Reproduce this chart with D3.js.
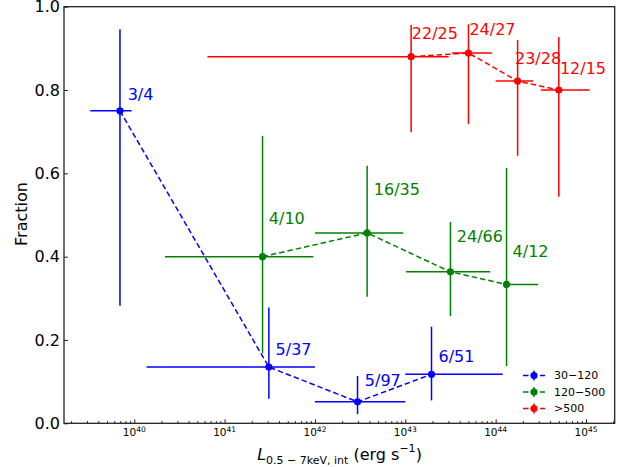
<!DOCTYPE html>
<html><head><meta charset="utf-8">
<script src="https://cdn.jsdelivr.net/npm/d3@7"></script>
<style>body{margin:0;background:#fff} svg{display:block} text{font-family:"DejaVu Sans",sans-serif}</style>
</head><body><svg id="c" width="634" height="467"></svg>
<script>
const seriesNames = ["30\u2212120", "120\u2212500", ">500"];
const seriesColors = ["#0000ff", "#008000", "#ff0000"];

// 30-120 (blue)
const blueL = [6.95e39, 3.09e41, 2.96e42, 1.95e43];
const blueLlo = [3.26e39, 1.37e40, 1.0e42, 1.0e43];
const blueLhi = [9.35e39, 1.0e42, 1.0e43, 1.2e44];
const blueFrac = [0.75, 0.135, 0.0515, 0.1176];
const blueFracLo = [0.282, 0.059, 0.022, 0.055];
const blueFracHi = [0.946, 0.278, 0.1135, 0.232];
const blueLabels = ["3/4", "5/37", "5/97", "6/51"];
const blueLabelL = [8.67e39, 3.76e41, 3.66e42, 2.39e43];
const blueLabelFrac = [0.776, 0.164, 0.0895, 0.146];

// 120-500 (green)
const greenL = [2.63e41, 3.78e42, 3.16e43, 1.32e44];
const greenLlo = [2.19e40, 1.0e42, 1.02e43, 1.32e44];
const greenLhi = [9.6e41, 9.5e42, 8.7e43, 2.95e44];
const greenFrac = [0.4, 0.457, 0.3636, 0.3333];
const greenFracLo = [0.168, 0.304, 0.257, 0.1375];
const greenFracHi = [0.690, 0.618, 0.483, 0.613];
const greenLabels = ["4/10", "16/35", "24/66", "4/12"];
const greenLabelL = [3.17e41, 4.6e42, 3.81e43, 1.58e44];
const greenLabelFrac = [0.478, 0.548, 0.435, 0.40];

// >500 (red)
const redL = [1.16e43, 5.0e43, 1.75e44, 5.0e44];
const redLlo = [6.46e40, 3.3e43, 1.0e44, 3.16e44];
const redLhi = [3.02e43, 9.1e43, 2.6e44, 1.1e45];
const redFrac = [0.88, 0.8889, 0.8214, 0.80];
const redFracLo = [0.6985, 0.718, 0.642, 0.544];
const redFracHi = [0.956, 0.958, 0.920, 0.927];
const redLabels = ["22/25", "24/27", "23/28", "12/15"];
const redLabelL = [1.21e43, 5.26e43, 1.68e44, 5.28e44];
const redLabelFrac = [0.922, 0.932, 0.862, 0.838];

const xMajorTicks = [1e40, 1e41, 1e42, 1e43, 1e44, 1e45];
const xTickExponents = ["40", "41", "42", "43", "44", "45"];
const yTicks = [0, 0.2, 0.4, 0.6, 0.8, 1.0];

const series = [
  {L: blueL, lo: blueLlo, hi: blueLhi, f: blueFrac, flo: blueFracLo, fhi: blueFracHi, labels: blueLabels, lx: blueLabelL, ly: blueLabelFrac},
  {L: greenL, lo: greenLlo, hi: greenLhi, f: greenFrac, flo: greenFracLo, fhi: greenFracHi, labels: greenLabels, lx: greenLabelL, ly: greenLabelFrac},
  {L: redL, lo: redLlo, hi: redLhi, f: redFrac, flo: redFracLo, fhi: redFracHi, labels: redLabels, lx: redLabelL, ly: redLabelFrac}
];

const svg = d3.select("#c");
const pL = 64, pR = 614.7, pT = 6.7, pB = 423.3;
const x = d3.scaleLog().domain([1.669e39, 2.078e45]).range([pL, pR]);
const y = d3.scaleLinear().domain([0, 1]).range([pB, pT]);

// minor ticks
const minor = [];
for (let e = 39; e <= 45; e++) for (let m = 2; m <= 9; m++) {
  const v = m * Math.pow(10, e);
  if (v > x.domain()[0] && v < x.domain()[1]) minor.push(v);
}
const axMinor = svg.append("g").attr("transform", `translate(0,${pB})`)
  .call(d3.axisBottom(x).tickValues(minor).tickSize(-2.2).tickFormat(""));
const axMajor = svg.append("g").attr("transform", `translate(0,${pB})`)
  .call(d3.axisBottom(x).tickValues(xMajorTicks).tickSize(-4).tickFormat(""));
[axMinor, axMajor].forEach(g => { g.select(".domain").remove(); g.selectAll("line").attr("stroke", "#222").attr("stroke-width", 1); });

const xl = svg.append("g").selectAll("text").data(xMajorTicks).join("text")
  .attr("x", d => x(d)).attr("y", 436).attr("text-anchor", "middle")
  .attr("font-size", 10.5).attr("fill", "#000");
xl.append("tspan").text("10");
xl.append("tspan").attr("font-size", 7.5).attr("dy", -4.5).text((d, i) => xTickExponents[i]);

const ay = svg.append("g").attr("transform", `translate(${pL},0)`)
  .call(d3.axisLeft(y).tickValues(yTicks).tickSize(-4).tickPadding(4).tickFormat(d3.format(".1f")));
ay.select(".domain").remove();
ay.selectAll("line").attr("stroke", "#222");
ay.selectAll("text").attr("font-size", 16).attr("fill", "#000").attr("font-family", "DejaVu Sans");

// frame
svg.append("rect").attr("x", pL).attr("y", pT).attr("width", pR - pL).attr("height", pB - pT)
  .attr("fill", "none").attr("stroke", "#222").attr("stroke-width", 1.3);

// data
series.forEach((s, k) => {
  const col = seriesColors[k];
  const g = svg.append("g");
  const idx = d3.range(s.L.length);
  g.append("path")
    .attr("d", d3.line().x(i => x(s.L[i])).y(i => y(s.f[i]))(idx))
    .attr("fill", "none").attr("stroke", col).attr("stroke-width", 1.5).attr("stroke-dasharray", "5.5,3");
  g.selectAll(".xe").data(idx).join("line")
    .attr("x1", i => x(s.lo[i])).attr("x2", i => x(s.hi[i]))
    .attr("y1", i => y(s.f[i])).attr("y2", i => y(s.f[i]))
    .attr("stroke", col).attr("stroke-width", 1.5);
  g.selectAll(".ye").data(idx).join("line")
    .attr("x1", i => x(s.L[i])).attr("x2", i => x(s.L[i]))
    .attr("y1", i => y(s.flo[i])).attr("y2", i => y(s.fhi[i]))
    .attr("stroke", col).attr("stroke-width", 1.5);
  g.selectAll("circle").data(idx).join("circle")
    .attr("cx", i => x(s.L[i])).attr("cy", i => y(s.f[i])).attr("r", 3.6).attr("fill", col);
  g.selectAll("text").data(idx).join("text")
    .attr("x", i => x(s.lx[i]) - 1).attr("y", i => y(s.ly[i]))
    .attr("font-size", 16).attr("fill", col).text(i => s.labels[i]);
});

// legend
const leg = svg.append("g");
seriesNames.forEach((name, k) => {
  const cy = 375.5 + k * 16.5, col = seriesColors[k];
  leg.append("line").attr("x1", 523).attr("x2", 545).attr("y1", cy).attr("y2", cy)
    .attr("stroke", col).attr("stroke-width", 1.5).attr("stroke-dasharray", "5.5,3");
  leg.append("line").attr("x1", 534).attr("x2", 534).attr("y1", cy - 5).attr("y2", cy + 5)
    .attr("stroke", col).attr("stroke-width", 1.5);
  leg.append("circle").attr("cx", 534).attr("cy", cy).attr("r", 3.6).attr("fill", col);
  leg.append("text").attr("x", 554).attr("y", cy).attr("dy", "0.35em")
    .attr("font-size", 11).attr("fill", "#000").text(name);
});

// axis labels
svg.append("text").attr("transform", "translate(27,214) rotate(-90)").attr("text-anchor", "middle")
  .attr("font-size", 16).attr("fill", "#000").text("Fraction");
const xt = svg.append("text").attr("x", 339.5).attr("y", 460).attr("text-anchor", "middle")
  .attr("font-size", 16).attr("fill", "#000");
xt.append("tspan").attr("font-style", "italic").text("L");
xt.append("tspan").attr("font-size", 11).attr("dy", 3.5).text("0.5 \u2212 7keV, int");
xt.append("tspan").attr("dy", -3.5).text("\u00a0(erg s");
xt.append("tspan").attr("font-size", 11).attr("dy", -8).text("\u22121");
xt.append("tspan").attr("dy", 8).text(")");
</script></body></html>
